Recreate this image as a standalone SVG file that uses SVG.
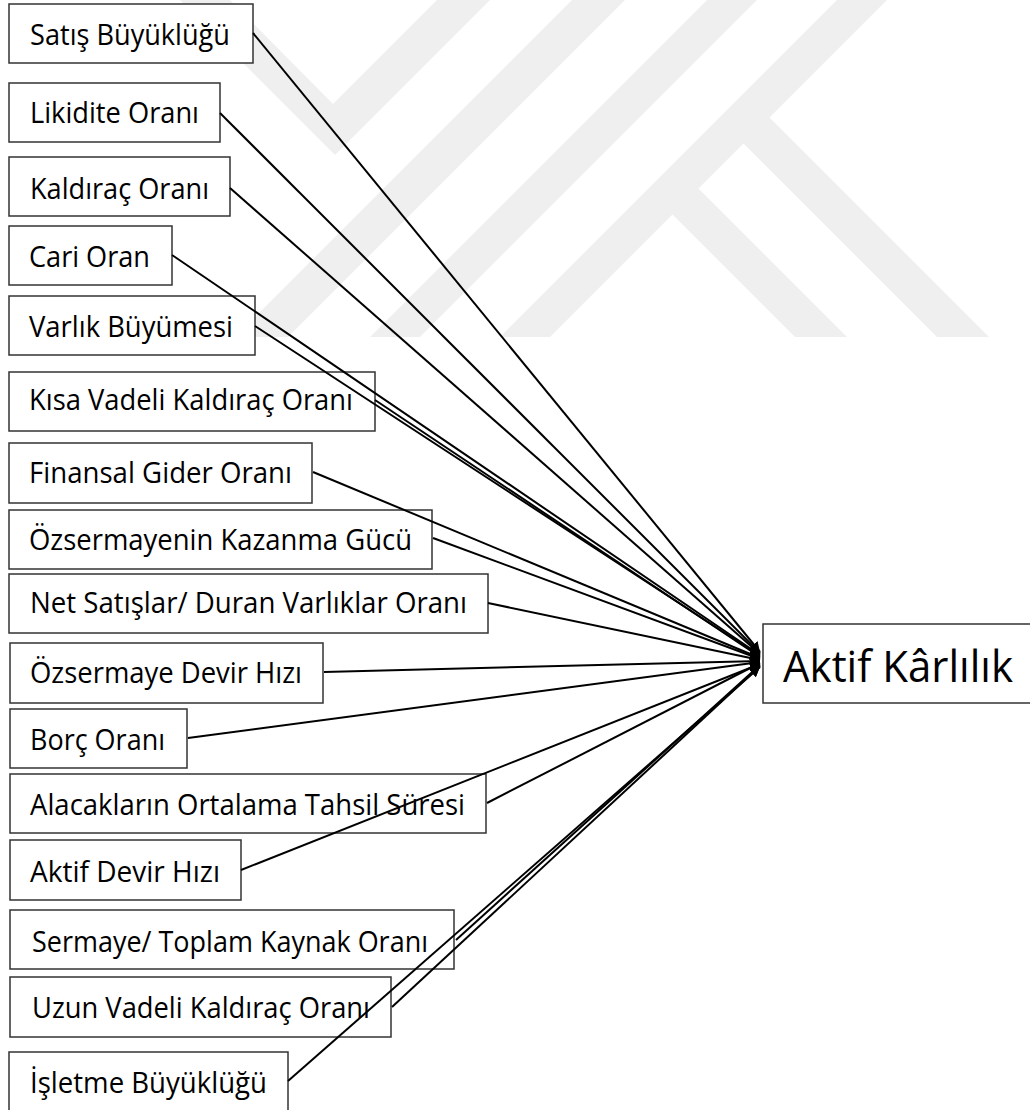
<svg xmlns="http://www.w3.org/2000/svg" width="1030" height="1110" viewBox="0 0 1030 1110">
  <style>
    .mark { fill: #efefef; }
    .box { fill: #ffffff; stroke: #333333; stroke-width: 1.5; }
    .lbl { font-family: "Open Sans", "Noto Sans", "DejaVu Sans", sans-serif; font-size: 28.5px; fill: #000000; }
    .big { font-family: "Open Sans", "Noto Sans", "DejaVu Sans", sans-serif; font-size: 43px; fill: #000000; }
    .link { fill: none; stroke: #000000; stroke-width: 2; }
  </style>
  <defs>
    <marker id="arrow" viewBox="0 0 10 10" refX="10" refY="5" markerWidth="5" markerHeight="5" orient="auto" markerUnits="strokeWidth">
      <path d="M0,0 L10,5 L0,10 Z" fill="#000000"/>
    </marker>
  </defs>

  <rect x="0" y="0" width="1030" height="1110" fill="#ffffff"/>

  <!-- faint striped emblem in the background -->
  <g id="emblem">
    <polygon class="mark" points="180,0 230,0 333,104 437,0 490,0 335,155"/>
    <polygon class="mark" points="572,0 625,0 288,337 235,337"/>
    <polygon class="mark" points="707,0 757,0 420,337 370,337"/>
    <polygon class="mark" points="837,0 887,0 769.5,117.5 989,337 937,337 743.5,143.5 698.5,188.5 847,337 795,337 672.5,214.5 550,337 500,337"/>
  </g>

  <g id="n-satis-buyuklugu">
    <rect class="box" x="9" y="4" width="244" height="59"/>
    <text class="lbl" x="30" y="45" textLength="200" lengthAdjust="spacingAndGlyphs">Satış Büyüklüğü</text>
  </g>
  <g id="n-likidite-orani">
    <rect class="box" x="9" y="83" width="211" height="59"/>
    <text class="lbl" x="30" y="123" textLength="169" lengthAdjust="spacingAndGlyphs">Likidite Oranı</text>
  </g>
  <g id="n-kaldirac-orani">
    <rect class="box" x="9" y="157" width="221" height="59"/>
    <text class="lbl" x="30" y="199" textLength="179" lengthAdjust="spacingAndGlyphs">Kaldıraç Oranı</text>
  </g>
  <g id="n-cari-oran">
    <rect class="box" x="9" y="226" width="163" height="59"/>
    <text class="lbl" x="29" y="267" textLength="121" lengthAdjust="spacingAndGlyphs">Cari Oran</text>
  </g>
  <g id="n-varlik-buyumesi">
    <rect class="box" x="9" y="296" width="246" height="59"/>
    <text class="lbl" x="29" y="337" textLength="204" lengthAdjust="spacingAndGlyphs">Varlık Büyümesi</text>
  </g>
  <g id="n-kisa-vadeli-kaldirac">
    <rect class="box" x="9" y="372" width="366" height="59"/>
    <text class="lbl" x="29" y="410" textLength="324" lengthAdjust="spacingAndGlyphs">Kısa Vadeli Kaldıraç Oranı</text>
  </g>
  <g id="n-finansal-gider">
    <rect class="box" x="9" y="443" width="303" height="60"/>
    <text class="lbl" x="29" y="483" textLength="263" lengthAdjust="spacingAndGlyphs">Finansal Gider Oranı</text>
  </g>
  <g id="n-ozsermaye-kazanma">
    <rect class="box" x="9" y="510" width="423" height="59"/>
    <text class="lbl" x="29" y="550" textLength="383" lengthAdjust="spacingAndGlyphs">Özsermayenin Kazanma Gücü</text>
  </g>
  <g id="n-net-satislar">
    <rect class="box" x="9" y="574" width="479" height="59"/>
    <text class="lbl" x="30" y="613" textLength="437" lengthAdjust="spacingAndGlyphs">Net Satışlar/ Duran Varlıklar Oranı</text>
  </g>
  <g id="n-ozsermaye-devir">
    <rect class="box" x="10" y="643" width="313" height="60"/>
    <text class="lbl" x="30" y="683" textLength="272" lengthAdjust="spacingAndGlyphs">Özsermaye Devir Hızı</text>
  </g>
  <g id="n-borc-orani">
    <rect class="box" x="10" y="709" width="177" height="59"/>
    <text class="lbl" x="30" y="750" textLength="135" lengthAdjust="spacingAndGlyphs">Borç Oranı</text>
  </g>
  <g id="n-alacaklar">
    <rect class="box" x="10" y="774" width="476" height="59"/>
    <text class="lbl" x="30" y="815" textLength="435" lengthAdjust="spacingAndGlyphs">Alacakların Ortalama Tahsil Süresi</text>
  </g>
  <g id="n-aktif-devir">
    <rect class="box" x="10" y="840" width="231" height="60"/>
    <text class="lbl" x="30" y="882" textLength="190" lengthAdjust="spacingAndGlyphs">Aktif Devir Hızı</text>
  </g>
  <g id="n-sermaye-toplam">
    <rect class="box" x="10" y="910" width="444" height="59"/>
    <text class="lbl" x="32" y="952" textLength="396" lengthAdjust="spacingAndGlyphs">Sermaye/ Toplam Kaynak Oranı</text>
  </g>
  <g id="n-uzun-vadeli-kaldirac">
    <rect class="box" x="10" y="977" width="381" height="60"/>
    <text class="lbl" x="32" y="1018" textLength="338" lengthAdjust="spacingAndGlyphs">Uzun Vadeli Kaldıraç Oranı</text>
  </g>
  <g id="n-isletme-buyuklugu">
    <rect class="box" x="9" y="1052" width="279" height="70"/>
    <text class="lbl" x="30" y="1093" textLength="237" lengthAdjust="spacingAndGlyphs">İşletme Büyüklüğü</text>
  </g>

  <!-- connectors: every factor points into the outcome box; drawn over the boxes they cross -->
  <g id="connectors">
    <line class="link" x1="253" y1="33" x2="760" y2="652" marker-end="url(#arrow)"/>
    <line class="link" x1="220" y1="113" x2="760" y2="653" marker-end="url(#arrow)"/>
    <line class="link" x1="230" y1="188" x2="760" y2="654" marker-end="url(#arrow)"/>
    <line class="link" x1="172" y1="255" x2="760" y2="655" marker-end="url(#arrow)"/>
    <line class="link" x1="255" y1="326" x2="760" y2="656" marker-end="url(#arrow)"/>
    <line class="link" x1="375" y1="400" x2="760" y2="657" marker-end="url(#arrow)"/>
    <line class="link" x1="313" y1="472" x2="760" y2="658" marker-end="url(#arrow)"/>
    <line class="link" x1="433" y1="538" x2="760" y2="659" marker-end="url(#arrow)"/>
    <line class="link" x1="488" y1="603" x2="760" y2="660" marker-end="url(#arrow)"/>
    <line class="link" x1="324" y1="672" x2="760" y2="661" marker-end="url(#arrow)"/>
    <line class="link" x1="188" y1="738" x2="760" y2="662" marker-end="url(#arrow)"/>
    <line class="link" x1="487" y1="803" x2="760" y2="663" marker-end="url(#arrow)"/>
    <line class="link" x1="241" y1="870" x2="760" y2="664" marker-end="url(#arrow)"/>
    <line class="link" x1="456" y1="940" x2="760" y2="665" marker-end="url(#arrow)"/>
    <line class="link" x1="392" y1="1007" x2="760" y2="666" marker-end="url(#arrow)"/>
    <line class="link" x1="288" y1="1081" x2="760" y2="667" marker-end="url(#arrow)"/>
  </g>

  <g id="n-aktif-karlilik">
    <rect class="box" x="763" y="624" width="290" height="79"/>
    <text class="big" x="783" y="682" textLength="230" lengthAdjust="spacingAndGlyphs">Aktif Kârlılık</text>
  </g>
</svg>
